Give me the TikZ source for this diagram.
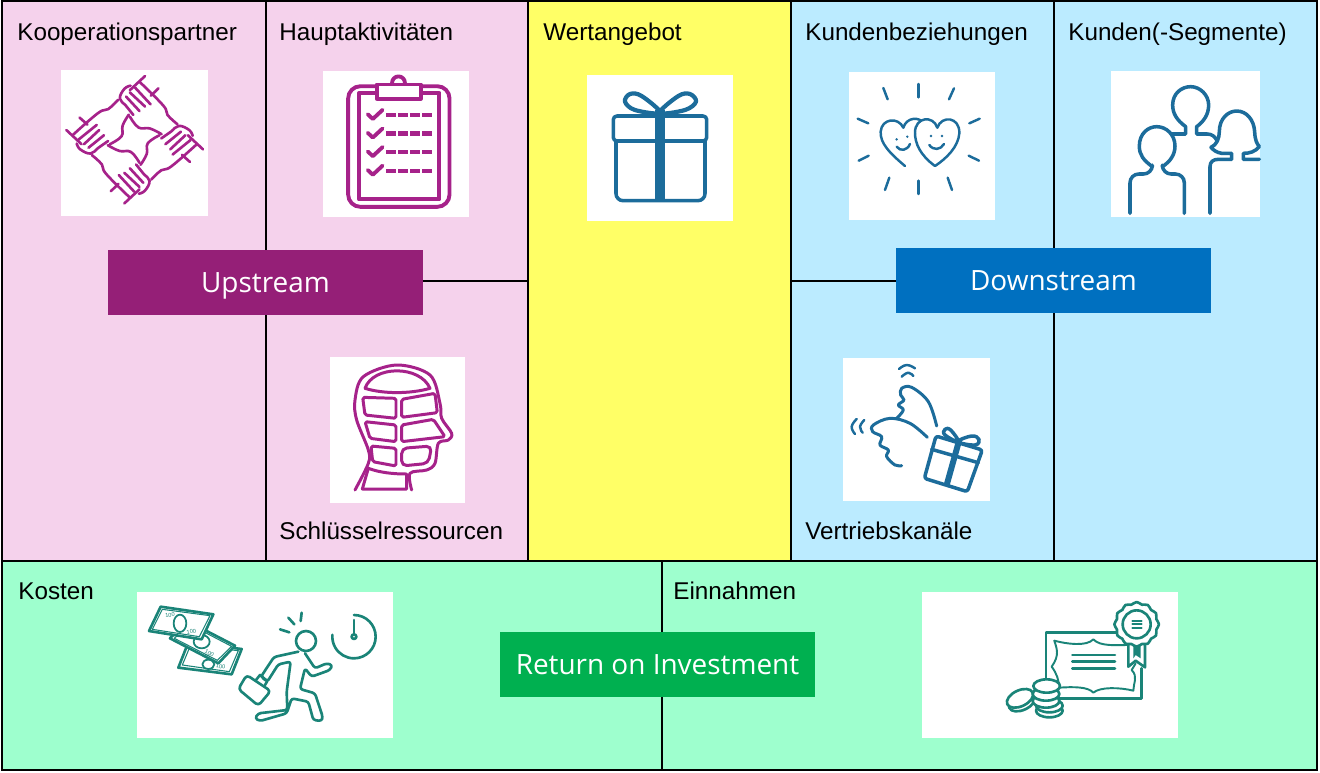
\documentclass[tikz,border=0pt]{standalone}
\usepackage{fontspec}
\setmainfont{Liberation Sans}
\newfontfamily\bannerfont{Open Sans}
\usepackage{tikz}
\usetikzlibrary{positioning,calc}
\definecolor{pinkbg}{HTML}{F5D2EC}
\definecolor{yellowbg}{HTML}{FFFF66}
\definecolor{bluebg}{HTML}{BBEBFF}
\definecolor{greenbg}{HTML}{9EFFCE}
\definecolor{upcol}{HTML}{951F77}
\definecolor{downcol}{HTML}{0070C0}
\definecolor{roicol}{HTML}{00B050}
\definecolor{purpleic}{HTML}{A6228A}
\definecolor{blueic}{HTML}{1C6C9B}
\definecolor{tealic}{HTML}{1A8478}
\tikzset{
  cellline/.style={line width=0.8pt,black},
  iconbg/.style={fill=white},
  lbl/.style={anchor=base west,inner sep=0pt,font=\fontsize{13.8}{16}\selectfont},
  banner/.style={rectangle,inner sep=0pt,minimum width=6.3cm,text height=0.84cm,text depth=0.46cm,
    text=white,font=\bannerfont\fontsize{15.9}{20}\selectfont},
  icp/.style={draw=purpleic,line width=1.7pt,line cap=round,line join=round},
  icb/.style={draw=blueic,line width=2pt,line cap=round,line join=round},
  ict/.style={draw=tealic,line width=1.5pt,line cap=round,line join=round},
  notetxt/.style={font=\fontsize{3.2}{4}\selectfont,text=tealic,inner sep=0pt},
}
\begin{document}
\begin{tikzpicture}[x=0.02cm,y=-0.02cm]
  \useasboundingbox (0,0) rectangle (1320,772);
  % coloured panels
  \fill[pinkbg] (2,1) rectangle (528,561);
  \fill[yellowbg] (528,1) rectangle (791,561);
  \fill[bluebg] (791,1) rectangle (1317,561);
  \fill[greenbg] (2,561) rectangle (1317,770);
  % grid lines
  \draw[cellline] (2,1) rectangle (1317,770);
  \draw[cellline] (2,561)--(1317,561);
  \foreach \x in {266,528,791,1054}{
    \draw[cellline] (\x,1)--(\x,561);
  }
  \draw[cellline] (662,561)--(662,770);
  \draw[cellline] (266,281)--(528,281);
  \draw[cellline] (791,281)--(1054,281);
  % white icon backgrounds
  \foreach \xa/\ya/\xb/\yb in {61/70/208/216,323/71/469/217,330/357/465/503,587/75/733/221,
    849/72/995/220,1111/71/1260/217,843/358/990/501,137/592/393/738,922/592/1178/738}{
    \fill[iconbg] (\xa,\ya) rectangle (\xb,\yb);
  }
  % labels
  \node[lbl] (kooperation) at (17,40) {Kooperationspartner};
  \node[lbl] (haupt) at (279,40) {Hauptaktivitäten};
  \node[lbl] (wert) at (543,40) {Wertangebot};
  \node[lbl] (beziehung) at (805,40) {Kundenbeziehungen};
  \node[lbl] (segmente) at (1068,40) {Kunden(-Segmente)};
  \node[lbl] (ressourcen) at (279,539) {Schlüsselressourcen};
  \node[lbl] (kanaele) at (805,539) {Vertriebskanäle};
  \node[lbl] (kosten) at (18,599) {Kosten};
  \node[lbl] (einnahmen) at (673,599) {Einnahmen};
  % banners
  \node[banner,fill=upcol] (upstream) at (265.5,282.5) {Upstream};
  \node[banner,fill=downcol] (downstream) at (1053.5,280.5) {Downstream};
  \node[banner,fill=roicol] (roi) at (657.5,664.5) {Return on Investment};
  % hands, one unit turned four times
  \begin{scope}[shift={(134.7,139.7)},xscale=1.035/3,yscale=0.965/3]
    \foreach \r in {0,90,180,270}{
      \begin{scope}[rotate=\r]
        \draw[icp,line width=1.5pt] (30,-198)--(-14,-154);
        \draw[icp,line width=1.5pt] (69,-160)--(47,-137);
        \draw[icp,line width=1.5pt] plot[smooth,tension=.7] coordinates {(-12,-168)(-30,-158)(-43,-128)(-25,-105)(-4,-77)};
        \draw[icp,line width=1.5pt] (1,-162)--(46,-110);
        \draw[icp,line width=1.5pt] (-14,-147)--(30,-103);
        \draw[icp,line width=1.5pt] (-25,-134)--(14,-89);
        \draw[icp,line width=1.5pt] plot[smooth,tension=.7] coordinates {(14,-180)(83,-106)(95,-77)(124,-48)};
        \draw[icp,line width=1.5pt] plot[smooth,tension=.7] coordinates {(-14,-72)(11,-38)(44,-35)(78,-17)};
      \end{scope}
    }
  \end{scope}
  % clipboard
  \begin{scope}[scale=0.338]
    \draw[icp,line width=2.2pt,rounded corners=7pt] (1030,255) rectangle (1330,612);
    \draw[icp,line width=2.2pt] (1062,275) rectangle (1300,590);
    \draw[icp,line width=2.2pt] (1160,245) arc (180:360:19);
    \draw[icp,line width=2.2pt,fill=white] (1115,250) rectangle (1245,292);
    \foreach \y in {340,395,450,505}{
      \draw[icp,line width=2.2pt] (1088,\y-2)--(1103,\y+12)--(1132,\y-15);
      \draw[draw=purpleic,line width=2.3pt,dash pattern=on 5.5pt off 1.3pt] (1143,\y)--(1278,\y);
    }
  \end{scope}
  % head
  \begin{scope}[shift={(300,340)},scale=1/3]
    \draw[icp] plot[smooth,tension=.55] coordinates {(165,450)(205,370)(205,330)(170,240)(165,180)(190,110)(290,75)(390,105)(420,190)(425,235)(455,280)(445,300)(415,310)(405,370)(380,390)(330,400)(335,450)};
    \draw[icp] (195,145) .. controls (220,75) and (360,75) .. (390,145) .. controls (330,162) and (250,162) .. cycle;
    \draw[icp,rounded corners=1pt] (188,172)--(288,175)--(288,235)--(195,225)--cycle;
    \draw[icp,rounded corners=1pt] (305,178)--(405,160)--(412,218)--(305,232)--cycle;
    \draw[icp,rounded corners=1pt] (195,245)--(288,255)--(288,305)--(210,295)--cycle;
    \draw[icp,rounded corners=1pt] (305,255)--(400,238)--(435,290)--(305,305)--cycle;
    \draw[icp,rounded corners=1pt] (213,318)--(288,325)--(288,378)--(218,365)--cycle;
    \draw[icp,rounded corners=3pt] (305,325)--(395,318)--(385,370)--(305,378)--cycle;
    \draw[icp] (205,385) .. controls (240,398) and (280,402) .. (320,402)--(320,447)--(187,447)--cycle;
  \end{scope}
  % gift
  \begin{scope}[shift={(570,60)},scale=1/3]
    \draw[icb,line width=2.4pt] plot[smooth cycle,tension=.6] coordinates {(270,158)(215,108)(180,102)(165,125)(195,150)};
    \draw[icb,line width=2.4pt] plot[smooth cycle,tension=.6] coordinates {(270,158)(325,108)(360,102)(378,125)(345,150)};
    \draw[icb,rounded corners=2pt] (130,168) rectangle (410,243);
    \draw[icb,rounded corners=4pt] (138,243)--(138,422)--(405,422)--(405,243);
    \draw[icb,line width=5.6pt,line cap=butt] (270,150)--(270,420);
  \end{scope}
  % two hearts
  \begin{scope}[shift={(570,60)},scale=1/3]
    \draw[icb,line width=1.4pt] (1005,318) .. controls (960,280) and (930,250) .. (932,215) .. controls (935,175) and (985,170) .. (1000,203) .. controls (1010,170) and (1050,170) .. (1060,190);
    \draw[icb,line width=1.4pt,fill=white] (1095,318) .. controls (1050,285) and (1035,250) .. (1035,218) .. controls (1035,170) and (1090,165) .. (1102,203) .. controls (1115,165) and (1170,170) .. (1168,220) .. controls (1165,260) and (1130,295) .. (1095,318);
    \fill[blueic] (980,238) circle (4) (1012,230) circle (4) (1083,228) circle (4) (1116,228) circle (4);
    \draw[icb,line width=1.4pt] (980,260) .. controls (990,275) and (1012,272) .. (1020,252);
    \draw[icb,line width=1.4pt] (1078,255) .. controls (1090,272) and (1112,270) .. (1122,252);
    \foreach \xa/\ya/\xb/\yb in {1045/72/1045/112,1152/85/1137/118,1229/176/1198/190,1196/287/1227/302,
      1133/353/1146/390,1045/362/1045/402,958/353/945/390,896/287/866/302,895/190/863/176,940/84/953/118}{
      \draw[icb,line width=1.4pt] (\xa,\ya)--(\xb,\yb);
    }
  \end{scope}
  % three people
  \begin{scope}[shift={(1100,60)},scale=1/3]
    \draw[icb,rounded corners=5pt] (90,460)--(90,342)--(157,342)--(157,320);
    \draw[icb] (157,320) .. controls (130,300) and (118,285) .. (118,258) .. controls (118,220) and (145,200) .. (170,200) .. controls (200,200) and (225,225) .. (225,258) .. controls (225,285) and (210,305) .. (187,320);
    \draw[icb,rounded corners=5pt] (187,320)--(187,342)--(253,342)--(253,460);
    \draw[icb] (215,222)--(257,222)--(257,200) .. controls (230,180) and (218,160) .. (218,135) .. controls (218,100) and (245,80) .. (272,80) .. controls (300,80) and (326,105) .. (326,135) .. controls (326,165) and (310,185) .. (290,200)--(290,222)--(322,222) .. controls (335,222) and (345,230) .. (350,240);
    \draw[icb] (330,460)--(330,320) .. controls (330,305) and (340,298) .. (355,298)--(395,298)--(395,280)--(365,280) .. controls (350,278) and (340,270) .. (333,262) .. controls (350,255) and (358,235) .. (358,215) .. controls (358,175) and (385,153) .. (410,153) .. controls (440,153) and (462,180) .. (464,215) .. controls (465,240) and (470,250) .. (478,260) .. controls (465,275) and (450,280) .. (430,280)--(430,298)--(478,298);
  \end{scope}
  % flying gift
  \begin{scope}[shift={(830,350)},scale=1/3]
    \draw[icb,rounded corners=1.5pt] (318,258)--(457,300)--(412,425)--(283,385)--cycle;
    \draw[icb] (305,298)--(445,338);
    \draw[icb,line width=3.4pt,line cap=butt] (385,280)--(350,405);
    \draw[icb] plot[smooth cycle,tension=.7] coordinates {(385,275)(362,240)(345,238)(345,255)};
    \draw[icb] plot[smooth cycle,tension=.7] coordinates {(385,275)(425,258)(447,268)(435,285)};
    \draw[icb,line width=1.7pt] plot[smooth,tension=.6] coordinates {(320,228)(295,155)(245,112)(215,115)(212,135)(222,150)(205,165)(220,180)(200,205)};
    \draw[icb,line width=1.7pt] plot[smooth,tension=.6] coordinates {(292,262)(240,220)(180,205)(130,225)(128,245)(155,260)(150,285)(175,300)(170,320)(195,345)(215,347)};
    \draw[icb,line width=1.4pt] plot[smooth,tension=.8] coordinates {(207,57)(230,45)(255,55)};
    \draw[icb,line width=1.4pt] plot[smooth,tension=.8] coordinates {(215,80)(235,68)(250,78)};
    \draw[icb,line width=1.4pt] plot[smooth,tension=.8] coordinates {(75,252)(65,230)(80,207)};
    \draw[icb,line width=1.4pt] plot[smooth,tension=.8] coordinates {(98,248)(90,230)(103,210)};
  \end{scope}
  % banknotes
  \begin{scope}[shift={(130,585)},scale=1/3]
    \draw[ict,fill=white] (175,172)--(335,192)--(305,268)--(145,248)--cycle;
    \draw[ict,line width=.6pt] (182,180)--(325,197)--(298,260)--(157,240)--cycle;
    \draw[ict,line width=1pt] (235,238) ellipse (18 and 14);
    \draw[ict,fill=white] (170,107)--(315,182)--(265,235)--(120,160)--cycle;
    \draw[ict,line width=.6pt] (178,118)--(305,184)--(262,226)--(133,160)--cycle;
    \draw[ict,line width=1pt] (215,170) ellipse (24 and 20);
    \draw[ict,fill=white] (92,65)--(250,88)--(215,163)--(57,138)--cycle;
    \draw[ict,line width=.6pt] (97,73)--(240,92)--(208,155)--(67,133)--cycle;
    \draw[ict,line width=1pt] (150,115) ellipse (19 and 26);
    \node[notetxt,rotate=8] (nota) at (120,90) {100};
    \node[notetxt,rotate=8] (notb) at (184,140) {100};
    \node[notetxt,rotate=-28] (notc) at (238,205) {100};
    \node[notetxt,rotate=-8] (notd) at (272,245) {100};
    % runner with clock
    \draw[ict] (528,168) circle (30);
    \draw[ict] (450,133)--(478,142) (475,98)--(493,118) (515,83)--(512,108);
    \draw[ict] (672,90) arc (-90:185:65);
    \draw[ict] (672,105)--(672,148);
    \draw[ict] (672,155) circle (7);
    \draw[ict,rounded corners=1.5pt] (505,200)--(432,216)--(393,275)--(412,290)--(445,238)--(482,230)--(470,320)--(472,375)--(385,385)--(375,400)--(390,408)--(470,385)--(485,340)--(535,350)--(550,405)--(575,408)--(578,395)--(555,325)--(510,312)--(525,250)--(545,275)--(600,255)--(607,240)--(590,235)--(555,250)--(525,205);
    \draw[ict,rounded corners=2pt,fill=white] (350,270)--(422,318)--(385,362)--(325,312)--cycle;
    \draw[ict] (378,285)--(390,270)--(412,288)--(405,300);
  \end{scope}
  % certificate with coins
  \begin{scope}[shift={(960,590)},scale=1/3]
    \draw[ict] (545,235)--(545,325)--(258,325)--(258,128)--(470,128);
    \draw[ict,line width=1.1pt] (283,152) .. controls (320,162) and (380,170) .. (400,148) .. controls (420,170) and (470,165) .. (500,165);
    \draw[ict,line width=1.1pt] (283,152) .. controls (290,175) and (300,195) .. (275,230) .. controls (290,250) and (297,270) .. (297,293);
    \draw[ict,line width=1.1pt] (297,293) .. controls (340,290) and (385,290) .. (400,308) .. controls (420,290) and (480,292) .. (520,302) .. controls (520,280) and (535,260) .. (515,240) (515,240)--(527,220);
    \foreach \y in {195,215,236}{
      \draw[ict] (337,\y)--(465,\y);
    }
    \draw[ict,fill=white] plot[smooth cycle,samples=48,domain=0:352.5] ({530+64*cos(\x)+3*cos(\x)*cos(12*\x)},{103+64*sin(\x)+3*sin(\x)*cos(12*\x)});
    \draw[ict] (530,103) circle (42);
    \foreach \y in {92,102,113}{
      \draw[ict,line width=1pt] (517,\y)--(545,\y);
    }
    \draw[ict] (505,165)--(505,230)--(527,212)--(555,232)--(555,165);
    \fill[tealic] (520,165)--(542,165)--(542,205)--(527,195)--(520,205)--cycle;
    \draw[ict,fill=white,rotate around={25:(186,336)}] (186,336) ellipse (42 and 24);
    \draw[ict,fill=white,rotate around={25:(180,325)}] (180,325) ellipse (42 and 24);
    \foreach \cx/\cy in {268/362,268/347,258/333,258/312,260/288}{
      \draw[ict,fill=white] (\cx,\cy) ellipse (40 and 20);
    }
  \end{scope}
\end{tikzpicture}
\end{document}
